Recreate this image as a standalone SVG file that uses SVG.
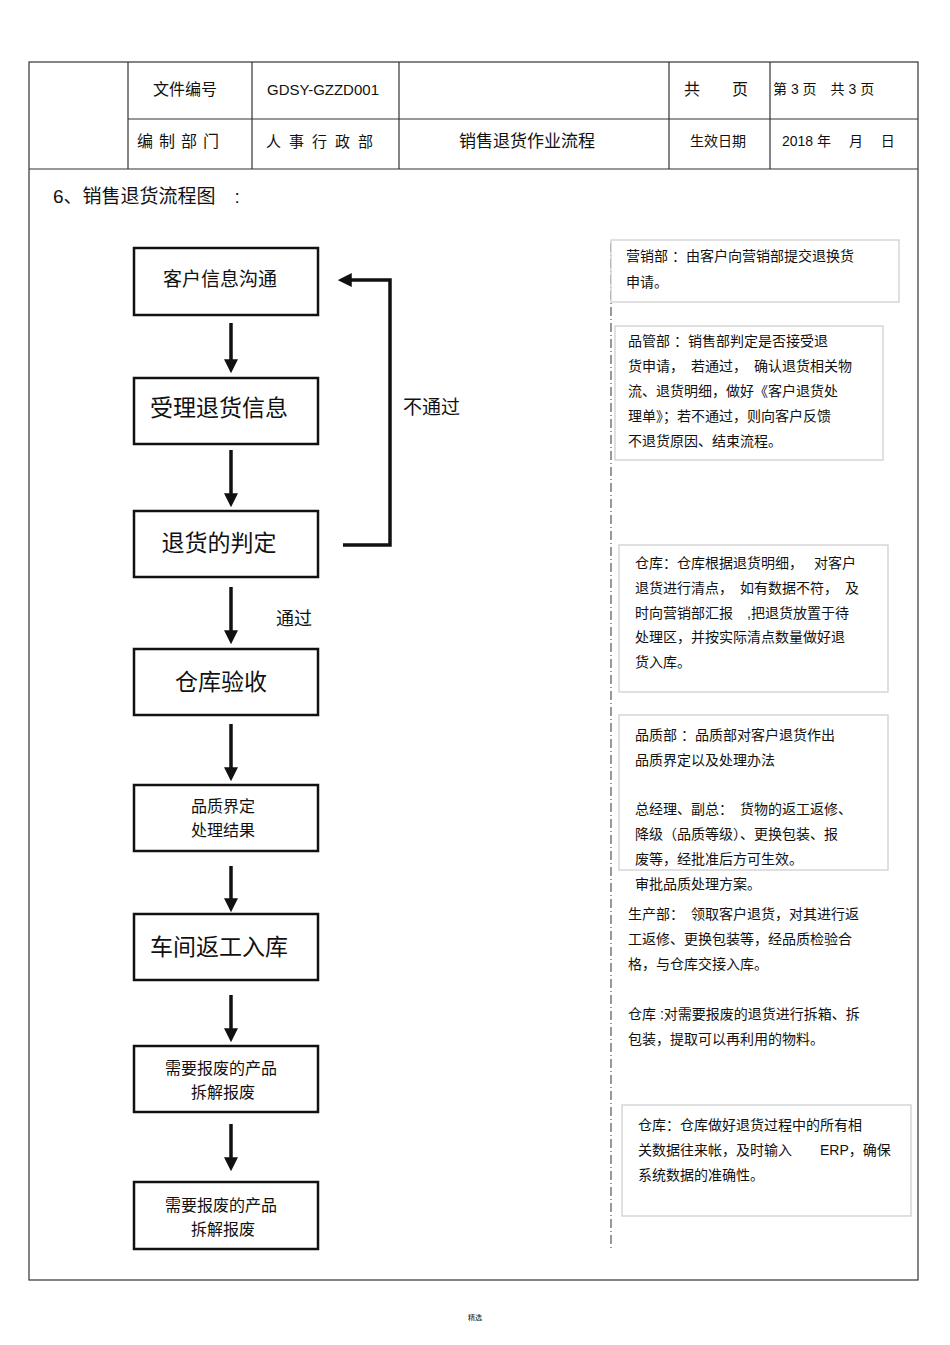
<svg xmlns="http://www.w3.org/2000/svg" width="950" height="1345" viewBox="0 0 950 1345">
<style>
text{font-family:"Liberation Sans","Noto Sans CJK SC",sans-serif;fill:#111}
.nb{fill:#fff;stroke:#111;stroke-width:2.5}
.tl{stroke:#333;stroke-width:1.2;fill:none}
.nt{text-anchor:middle}
.pn{fill:#fff;stroke:#ccc;stroke-width:1.2}
.pt{font-size:14px}
.ar{stroke:#111;stroke-width:3.5;fill:none}
</style>
<defs><marker id="ah" markerWidth="4" markerHeight="4" refX="2.5" refY="2" orient="auto" markerUnits="strokeWidth"><path d="M0,0 L4,2 L0,4 Z" fill="#111"/></marker></defs>
<rect width="950" height="1345" fill="#fff"/>
<g id="frame">
<rect class="tl" x="29" y="62" width="889" height="1218"/>
<line class="tl" x1="29" y1="169" x2="918" y2="169"/>
<line class="tl" x1="128" y1="119" x2="918" y2="119"/>
<line class="tl" x1="128" y1="62" x2="128" y2="169"/>
<line class="tl" x1="252" y1="62" x2="252" y2="169"/>
<line class="tl" x1="399" y1="62" x2="399" y2="169"/>
<line class="tl" x1="669" y1="62" x2="669" y2="169"/>
<line class="tl" x1="770" y1="62" x2="770" y2="169"/>
<text x="153" y="95" font-size="16">文件编号</text>
<text x="267" y="95" font-size="15">GDSY-GZZD001</text>
<text x="684" y="95" font-size="16">共　　页</text>
<text x="773" y="94" font-size="14">第 3 页　共 3 页</text>
<text x="137" y="147" font-size="16" letter-spacing="6">编制部门</text>
<text x="266" y="147" font-size="15" letter-spacing="8">人事行政部</text>
<text x="527" y="147" font-size="17" class="nt">销售退货作业流程</text>
<text x="690" y="146" font-size="14">生效日期</text>
<text x="782" y="146" font-size="14">2018 年　 月　 日</text>
<text x="53" y="203" font-size="19">6、销售退货流程图　:</text>
<text x="475" y="1320" font-size="7" class="nt">精选</text>
</g>
<g id="connectors">
<line class="ar" x1="231" y1="323" x2="231" y2="368" marker-end="url(#ah)"/>
<line class="ar" x1="231" y1="450" x2="231" y2="502" marker-end="url(#ah)"/>
<line class="ar" x1="231" y1="587" x2="231" y2="639" marker-end="url(#ah)"/>
<line class="ar" x1="231" y1="724" x2="231" y2="776" marker-end="url(#ah)"/>
<line class="ar" x1="231" y1="866" x2="231" y2="907" marker-end="url(#ah)"/>
<line class="ar" x1="231" y1="995" x2="231" y2="1037" marker-end="url(#ah)"/>
<line class="ar" x1="231" y1="1124" x2="231" y2="1166" marker-end="url(#ah)"/>
<polyline class="ar" points="343,545 390,545 390,280 343,280" marker-end="url(#ah)"/>
<text x="403" y="414" font-size="19">不通过</text>
<text x="276" y="625" font-size="18">通过</text>
<line x1="611" y1="243" x2="611" y2="1248" stroke="#333" stroke-width="1" stroke-dasharray="9,3,1,3"/>
</g>
<g id="n1"><rect class="nb" x="134" y="248" width="184" height="67"/><text class="nt" x="220" y="286" font-size="19">客户信息沟通</text></g>
<g id="n2"><rect class="nb" x="134" y="378" width="184" height="66"/><text class="nt" x="219" y="416" font-size="23">受理退货信息</text></g>
<g id="n3"><rect class="nb" x="134" y="511" width="184" height="66"/><text class="nt" x="219" y="551" font-size="23">退货的判定</text></g>
<g id="n4"><rect class="nb" x="134" y="649" width="184" height="66"/><text class="nt" x="221" y="690" font-size="23">仓库验收</text></g>
<g id="n5"><rect class="nb" x="134" y="785" width="184" height="66"/><text class="nt" x="223" y="812" font-size="16">品质界定</text><text class="nt" x="223" y="836" font-size="16">处理结果</text></g>
<g id="n6"><rect class="nb" x="134" y="914" width="184" height="66"/><text class="nt" x="219" y="955" font-size="23">车间返工入库</text></g>
<g id="n7"><rect class="nb" x="134" y="1046" width="184" height="66"/><text class="nt" x="221" y="1074" font-size="16">需要报废的产品</text><text class="nt" x="223" y="1098" font-size="16">拆解报废</text></g>
<g id="n8"><rect class="nb" x="134" y="1182" width="184" height="67"/><text class="nt" x="221" y="1211" font-size="16">需要报废的产品</text><text class="nt" x="223" y="1235" font-size="16">拆解报废</text></g>
<g id="p1"><rect class="pn" x="611" y="240" width="288" height="62"/><text class="pt" x="626" y="261">营销部 ：由客户向营销部提交退换货</text><text class="pt" x="626" y="287">申请。</text></g>
<g id="p2"><rect class="pn" x="615" y="326" width="268" height="134"/><text class="pt" x="628" y="346">品管部 ：销售部判定是否接受退</text><text class="pt" x="628" y="371">货申请，　若通过，　确认退货相关物</text><text class="pt" x="628" y="396">流、退货明细，做好《客户退货处</text><text class="pt" x="628" y="421">理单》；若不通过，则向客户反馈</text><text class="pt" x="628" y="446">不退货原因、结束流程。</text></g>
<g id="p3"><rect class="pn" x="619" y="545" width="269" height="147"/><text class="pt" x="635" y="568">仓库：仓库根据退货明细，　 对客户</text><text class="pt" x="635" y="593">退货进行清点，　如有数据不符，　及</text><text class="pt" x="635" y="618">时向营销部汇报　,把退货放置于待</text><text class="pt" x="635" y="642">处理区，并按实际清点数量做好退</text><text class="pt" x="635" y="667">货入库。</text></g>
<g id="p4"><rect class="pn" x="619" y="715" width="269" height="155"/><text class="pt" x="635" y="740">品质部 ：品质部对客户退货作出</text><text class="pt" x="635" y="765">品质界定以及处理办法</text><text class="pt" x="635" y="814">总经理、副总：　货物的返工返修、</text><text class="pt" x="635" y="839">降级（品质等级）、更换包装、报</text><text class="pt" x="635" y="864">废等，经批准后方可生效。</text><text class="pt" x="635" y="889">审批品质处理方案。</text></g>
<g id="p5"><text class="pt" x="628" y="919">生产部：　领取客户退货，对其进行返</text><text class="pt" x="628" y="944">工返修、更换包装等，经品质检验合</text><text class="pt" x="628" y="969">格，与仓库交接入库。</text><text class="pt" x="628" y="1019">仓库 :对需要报废的退货进行拆箱、拆</text><text class="pt" x="628" y="1044">包装，提取可以再利用的物料。</text></g>
<g id="p6"><rect class="pn" x="622" y="1105" width="289" height="111" stroke="#aaa"/><text class="pt" x="638" y="1130">仓库：仓库做好退货过程中的所有相</text><text class="pt" x="638" y="1155">关数据往来帐，及时输入　　ERP，确保</text><text class="pt" x="638" y="1180">系统数据的准确性。</text></g>
</svg>
